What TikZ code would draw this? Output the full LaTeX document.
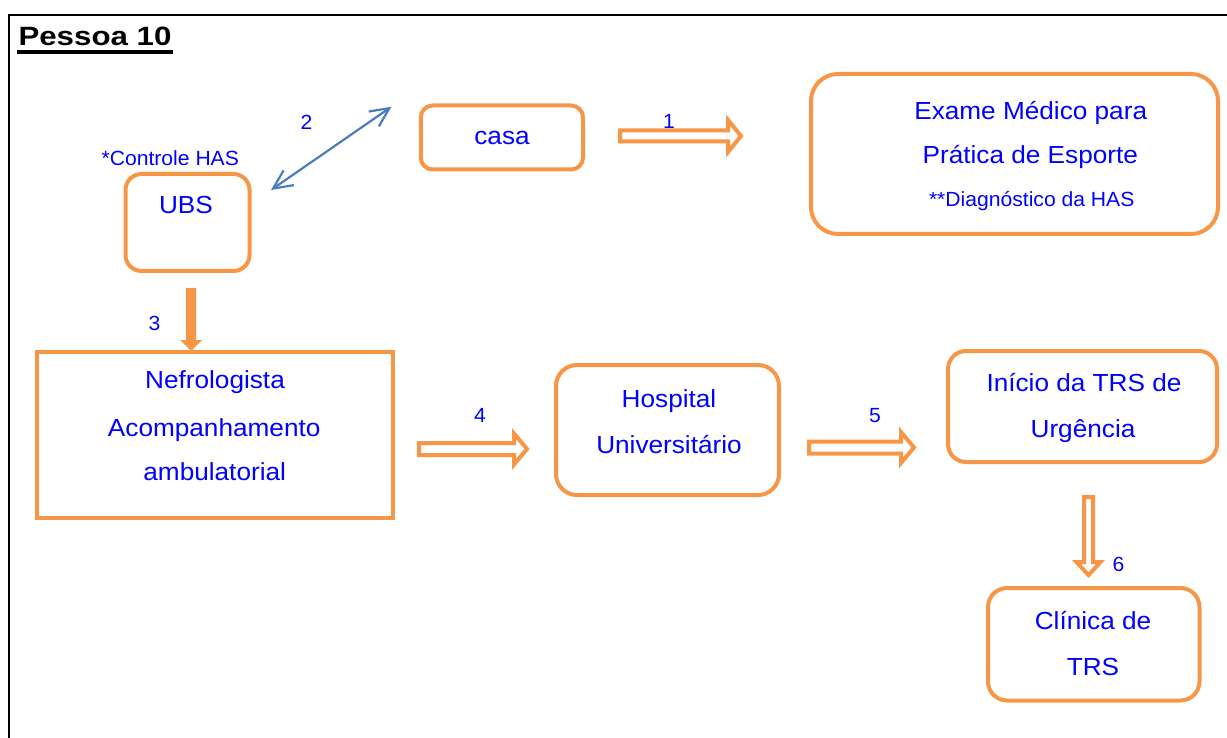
\documentclass[tikz,border=0pt]{standalone}
\usepackage{fontspec}
\setmainfont{Liberation Sans}
\newfontfamily\boxfont{Liberation Sans}[FakeStretch=1.06]
\newfontfamily\notefont{Liberation Sans}[FakeStretch=1.03]
\newfontfamily\headfont{Liberation Sans}[FakeStretch=1.18]
\usetikzlibrary{arrows.meta}
\definecolor{boxorange}{HTML}{F79646}
\definecolor{txtblue}{HTML}{0000FF}
\definecolor{linkblue}{HTML}{4A7EBB}
\tikzset{
  stagebox/.style={draw=boxorange, line width=4pt, inner sep=0pt, fill=none},
  boxtext/.style={font=\boxfont\fontsize{24.7}{29}\selectfont, text=txtblue, inner sep=0pt, anchor=base},
  notetext/.style={font=\notefont\fontsize{20.5}{24}\selectfont, text=txtblue, inner sep=0pt},
  hollowarrow/.style={draw=boxorange, line width=4pt, fill=white, line join=miter},
  solidarrow/.style={fill=boxorange, draw=none},
  link/.style={draw=linkblue, line width=2.2pt,
    {Straight Barb[length=19pt,width=18pt]}-{Straight Barb[length=19pt,width=18pt]}},
}
\begin{document}
\begin{tikzpicture}[x=1pt,y=-1pt]
\useasboundingbox (0,0) rectangle (1227,738);
% page frame
\draw[line width=2pt] (9,738) -- (9,15.5) -- (1227,15.5);
% heading
\node[font=\headfont\bfseries\fontsize{26.5}{30}\selectfont, inner sep=0pt, anchor=base west] (title) at (18.3,45.7) {Pessoa 10};
\draw[line width=3.5pt] ([xshift=-1pt,yshift=-6.3pt]title.base west) -- ([xshift=1.5pt,yshift=-6.3pt]title.base east);

% boxes
\node[stagebox, rounded corners=12pt, minimum width=162.3pt, minimum height=64pt] (casa) at (501.9,137.5) {};
\node[stagebox, rounded corners=27pt, minimum width=407pt, minimum height=160pt] (exame) at (1014.5,154) {};
\node[stagebox, rounded corners=16pt, minimum width=124pt, minimum height=97pt] (ubs) at (187.5,222.5) {};
\node[stagebox, minimum width=356pt, minimum height=166pt] (nefro) at (215,435) {};
\node[stagebox, rounded corners=21pt, minimum width=223pt, minimum height=130pt] (hosp) at (667.5,430) {};
\node[stagebox, rounded corners=18pt, minimum width=269pt, minimum height=111pt] (inicio) at (1082.5,406.5) {};
\node[stagebox, rounded corners=19pt, minimum width=211.5pt, minimum height=112.5pt] (clinica) at (1093.75,644.25) {};

% box texts
\node[boxtext] (tcasa) at (502,144.3) {casa};
\node[boxtext] (tex1) at (1030.7,119.3) {Exame Médico para};
\node[boxtext] (tex2) at (1030.3,164) {Prática de Esporte};
\node[notetext, anchor=base] (tex3) at (1031.7,206.7) {**Diagnóstico da HAS};
\node[notetext, anchor=base] (tctrl) at (170.3,165.7) {*Controle HAS};
\node[boxtext] (tubs) at (186,214) {UBS};
\node[boxtext] (tnf1) at (215,388.3) {Nefrologista};
\node[boxtext] (tnf2) at (214.2,436) {Acompanhamento};
\node[boxtext] (tnf3) at (214.7,480) {ambulatorial};
\node[boxtext] (th1) at (669,407) {Hospital};
\node[boxtext] (th2) at (669,453) {Universitário};
\node[boxtext] (ti1) at (1084,391) {Início da TRS de};
\node[boxtext] (ti2) at (1083,437) {Urgência};
\node[boxtext] (tc1) at (1093,629) {Clínica de};
\node[boxtext] (tc2) at (1093,675) {TRS};

% step 2: two-way link between UBS and casa
\coordinate (l2a) at (271,190);
\coordinate (l2b) at (391.5,106.7);
\draw[link] (l2a) -- (l2b);

% step 1: casa -> exame
\draw[hollowarrow] (620,130.5) -- (728,130.5) -- (728,120) -- (741,136) -- (728,152) -- (728,141.5) -- (620,141.5) -- cycle;
% step 3: UBS -> nefrologista
\fill[solidarrow] (186,288) -- (196,288) -- (196,340) -- (202,340) -- (191,351) -- (180,340) -- (186,340) -- cycle;
% step 4: nefrologista -> hospital
\draw[hollowarrow] (419,443) -- (514,443) -- (514,433.5) -- (527,449) -- (514,464.5) -- (514,455) -- (419,455) -- cycle;
% step 5: hospital -> inicio
\draw[hollowarrow] (809,441.5) -- (901,441.5) -- (901,432) -- (914,447.5) -- (901,463) -- (901,453.5) -- (809,453.5) -- cycle;
% step 6: inicio -> clinica
\draw[hollowarrow] (1084,497) -- (1093,497) -- (1093,562) -- (1100.5,562) -- (1088.5,575) -- (1076.5,562) -- (1084,562) -- cycle;

% step numbers
\node[notetext] (n2) at (306.5,122) {2};
\node[notetext] (n1) at (669,121.5) {1};
\node[notetext] (n3) at (154.5,323) {3};
\node[notetext] (n4) at (480,415.5) {4};
\node[notetext] (n5) at (875,415.5) {5};
\node[notetext] (n6) at (1118.5,564) {6};
\end{tikzpicture}
\end{document}
